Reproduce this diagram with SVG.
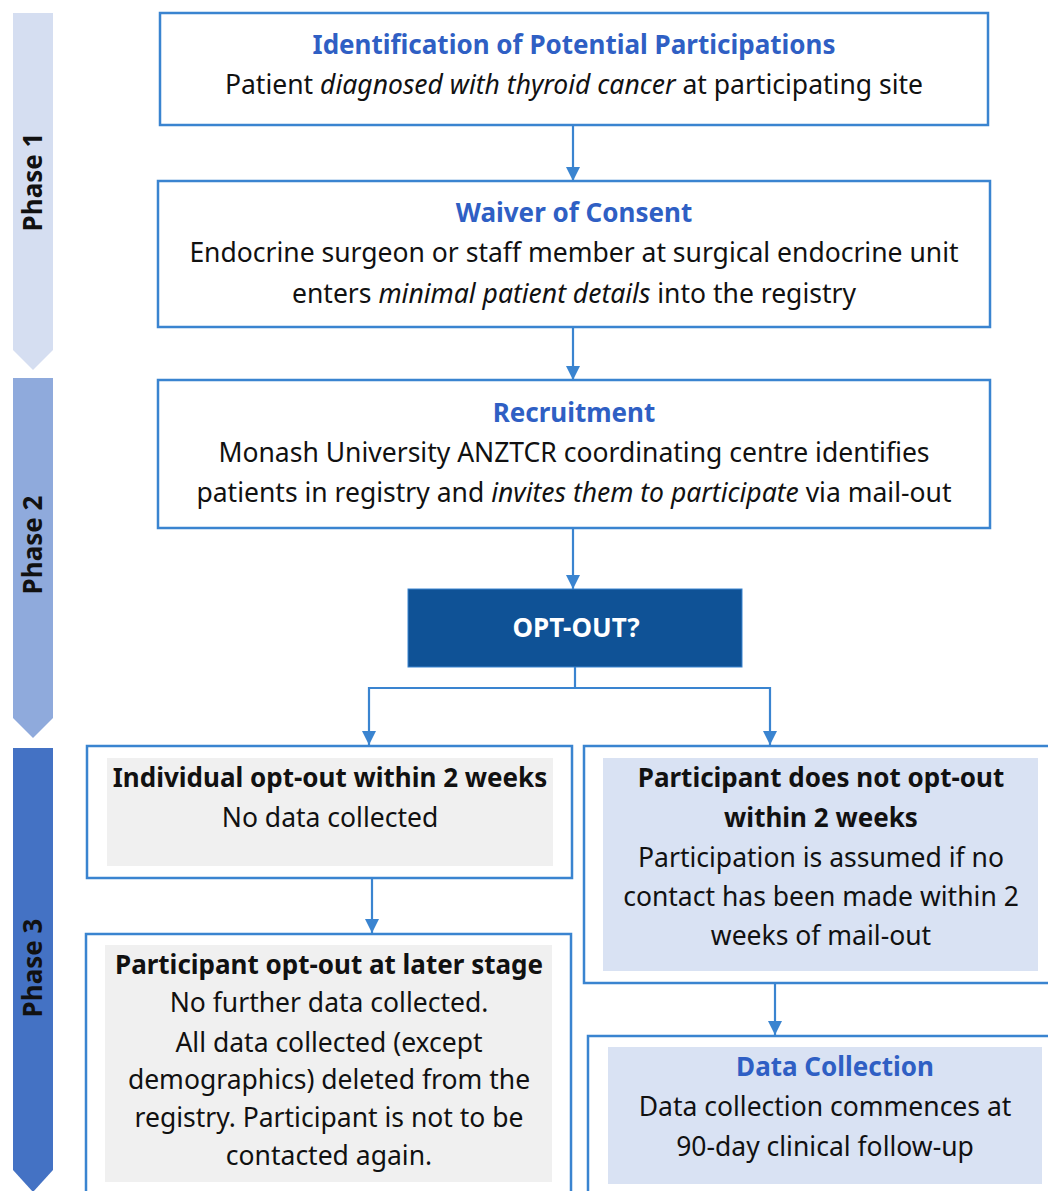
<svg xmlns="http://www.w3.org/2000/svg" width="1048" height="1191" viewBox="0 0 1048 1191">
<defs>
<style>
text{font-family:"Noto Sans","Open Sans","DejaVu Sans",sans-serif;text-anchor:middle;fill:#111;}
.t{font-size:26.5px;}
.h{font-size:26px;font-weight:bold;fill:#2F5FC4;}
.hb{font-size:26px;font-weight:bold;fill:#111;}
.ph{font-size:26px;font-weight:bold;fill:#111;}
.box{fill:#fff;stroke:#3A84D0;stroke-width:2.5;}
.gray{fill:#F0F0F0;}
.lblue{fill:#D9E2F3;}
.con{fill:none;stroke:#3A84D0;stroke-width:2.2;}
</style>
<marker id="ah" viewBox="0 0 10 10" refX="10" refY="5" markerWidth="6.5" markerHeight="6.5" markerUnits="strokeWidth" orient="auto">
<path d="M0,0 L10,5 L0,10 z" fill="#3A84D0"/>
</marker>
</defs>
<rect width="1048" height="1191" fill="#fff"/>

<g id="phase1">
<polygon points="13,13 53,13 53,350 33,370 13,350" fill="#D5DEF1"/>
<text class="ph" transform="translate(42,182) rotate(-90)">Phase 1</text>
</g>
<g id="phase2">
<polygon points="13,378 53,378 53,718 33,738 13,718" fill="#8FAADC"/>
<text class="ph" transform="translate(42,545) rotate(-90)">Phase 2</text>
</g>
<g id="phase3">
<polygon points="13,748 53,748 53,1170 33,1192 13,1170" fill="#4472C4"/>
<text class="ph" transform="translate(42,968) rotate(-90)">Phase 3</text>
</g>

<g id="connectors">
<line class="con" x1="573" y1="125" x2="573" y2="181" marker-end="url(#ah)"/>
<line class="con" x1="573" y1="327" x2="573" y2="380" marker-end="url(#ah)"/>
<line class="con" x1="573" y1="528" x2="573" y2="589" marker-end="url(#ah)"/>
<polyline class="con" points="575,667 575,688 369,688 369,745" marker-end="url(#ah)"/>
<polyline class="con" points="575,688 770,688 770,745" marker-end="url(#ah)"/>
<line class="con" x1="372" y1="878" x2="372" y2="933" marker-end="url(#ah)"/>
<line class="con" x1="775" y1="983" x2="775" y2="1035" marker-end="url(#ah)"/>
</g>

<g id="identification">
<rect class="box" x="160" y="13" width="828" height="112"/>
<text class="h" x="574" y="54">Identification of Potential Participations</text>
<text class="t" x="574" y="94">Patient <tspan font-style="italic">diagnosed with thyroid cancer</tspan> at participating site</text>
</g>

<g id="waiver">
<rect class="box" x="158" y="181" width="832" height="146"/>
<text class="h" x="574" y="222">Waiver of Consent</text>
<text class="t" x="574" y="262">Endocrine surgeon or staff member at surgical endocrine unit</text>
<text class="t" x="574" y="303">enters <tspan font-style="italic">minimal patient details</tspan> into the registry</text>
</g>

<g id="recruitment">
<rect class="box" x="158" y="380" width="832" height="148"/>
<text class="h" x="574" y="422">Recruitment</text>
<text class="t" x="574" y="462">Monash University ANZTCR coordinating centre identifies</text>
<text class="t" x="574" y="502">patients in registry and <tspan font-style="italic">invites them to participate</tspan> via mail-out</text>
</g>

<g id="optout">
<rect x="408" y="589" width="334" height="78" fill="#0F5296" stroke="#3A84D0" stroke-width="1"/>
<text x="576" y="637" font-size="26" font-weight="bold" style="fill:#fff">OPT-OUT?</text>
</g>

<g id="individual-optout">
<rect class="box" x="87" y="746" width="485" height="132"/>
<rect class="gray" x="107" y="758" width="446" height="108"/>
<text class="hb" x="330" y="787">Individual opt-out within 2 weeks</text>
<text class="t" x="330" y="827">No data collected</text>
</g>

<g id="later-optout">
<rect class="box" x="86" y="934" width="485" height="270"/>
<rect class="gray" x="105" y="945" width="447" height="237"/>
<text class="hb" x="329" y="974">Participant opt-out at later stage</text>
<text class="t" x="329" y="1012">No further data collected.</text>
<text class="t" x="329" y="1052">All data collected (except</text>
<text class="t" x="329" y="1089">demographics) deleted from the</text>
<text class="t" x="329" y="1127">registry. Participant is not to be</text>
<text class="t" x="329" y="1165">contacted again.</text>
</g>

<g id="no-optout">
<rect class="box" x="584" y="746" width="480" height="237"/>
<rect class="lblue" x="603" y="758" width="435" height="213"/>
<text class="hb" x="821" y="787">Participant does not opt-out</text>
<text class="hb" x="821" y="827">within 2 weeks</text>
<text class="t" x="821" y="867">Participation is assumed if no</text>
<text class="t" x="821" y="906">contact has been made within 2</text>
<text class="t" x="821" y="945">weeks of mail-out</text>
</g>

<g id="data-collection">
<rect class="box" x="588" y="1036" width="480" height="170"/>
<rect class="lblue" x="608" y="1047" width="434" height="137"/>
<text class="h" x="835" y="1076">Data Collection</text>
<text class="t" x="825" y="1116">Data collection commences at</text>
<text class="t" x="825" y="1156">90-day clinical follow-up</text>
</g>
</svg>
